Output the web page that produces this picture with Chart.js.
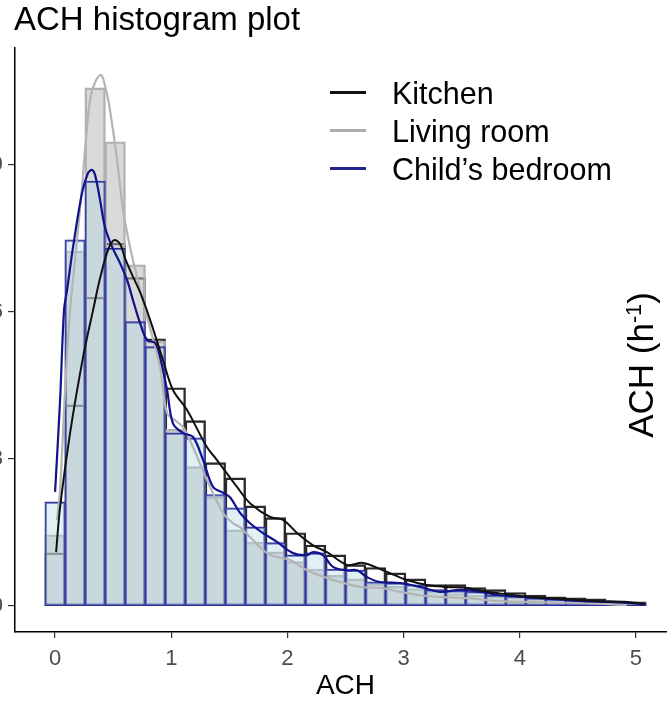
<!DOCTYPE html>
<html>
<head>
<meta charset="utf-8">
<script src="https://cdn.jsdelivr.net/npm/chart.js@4.4.1/dist/chart.umd.min.js"></script>
<style>
  html, body { margin: 0; padding: 0; background: #fff; }
  #wrap { position: relative; width: 667px; height: 706px; overflow: hidden; background: #fff; }
  #c { position: absolute; left: -40px; top: 0; }
  .title { position: absolute; left: 14px; top: 2px; font: 33px/33px 'Liberation Sans', Arial, sans-serif; color: #000; white-space: nowrap; }
  .row { position: absolute; left: 330px; height: 30px; width: 330px; }
  .sw { position: absolute; left: 0; top: 13px; width: 36px; height: 3px; }
  .lbl { position: absolute; left: 62px; top: 0; font: 30.5px/30px 'Liberation Sans', Arial, sans-serif; color: #000; white-space: nowrap; }
  .ylab { position: absolute; left: 521px; top: 345px; width: 240px; height: 40px; text-align: center;
          font: 35px/40px 'Liberation Sans', Arial, sans-serif; color: #000; white-space: nowrap; transform: rotate(-90deg); }
  .ylab sup { font-size: 0.62em; vertical-align: 0.55em; line-height: 0; }
</style>
</head>
<body>
<div id="wrap">
  <canvas id="c" width="720" height="706"></canvas>
  <div class="title">ACH histogram plot</div>
  <div class="row" style="top:78px"><span class="sw" style="background:#111"></span><span class="lbl">Kitchen</span></div>
  <div class="row" style="top:116px"><span class="sw" style="background:#ababab"></span><span class="lbl">Living room</span></div>
  <div class="row" style="top:154px"><span class="sw" style="background:#23238f"></span><span class="lbl">Child’s bedroom</span></div>
  <div class="ylab">ACH (h<sup>-1</sup>)</div>
</div>
<script>
// ---- data (density histograms, 30 bins) ----
const binCenters = [0, 0.1724, 0.3448, 0.5172, 0.6897, 0.8621, 1.0345, 1.2069, 1.3793, 1.5517,
  1.7241, 1.8966, 2.0690, 2.2414, 2.4138, 2.5862, 2.7586, 2.9310, 3.1034, 3.2759,
  3.4483, 3.6207, 3.7931, 3.9655, 4.1379, 4.3103, 4.4828, 4.6552, 4.8276, 5.0];

const kitchenHist = [0.108, 0.41, 0.63, 0.74, 0.67, 0.545, 0.445, 0.378, 0.292, 0.261,
  0.204, 0.18, 0.149, 0.124, 0.104, 0.084, 0.078, 0.067, 0.055, 0.043,
  0.043, 0.037, 0.033, 0.027, 0.022, 0.018, 0.016, 0.014, 0.010, 0.008];

const livingHist = [0.145, 0.724, 1.057, 0.947, 0.696, 0.54, 0.36, 0.284, 0.222, 0.155,
  0.13, 0.11, 0.09, 0.075, 0.062, 0.055, 0.045, 0.04, 0.035, 0.03,
  0.025, 0.022, 0.02, 0.018, 0.015, 0.013, 0.011, 0.01, 0.008, 0.006];

const bedroomHist = [0.212, 0.747, 0.867, 0.73, 0.58, 0.529, 0.353, 0.343, 0.227, 0.2,
  0.161, 0.129, 0.104, 0.108, 0.075, 0.073, 0.049, 0.047, 0.043, 0.033,
  0.031, 0.029, 0.022, 0.02, 0.016, 0.014, 0.012, 0.010, 0.008, 0.006];

// ---- density curves ----
const kitchenKdeX = [0.009, 0.043, 0.129, 0.241, 0.327, 0.387, 0.456, 0.508, 0.559, 0.602, 0.663, 0.731, 0.818, 0.929, 1.015, 1.136, 1.308, 1.394, 1.566, 1.678, 1.850, 1.962, 2.083, 2.220, 2.341, 2.513, 2.651, 2.823, 3.029, 3.201, 3.374, 3.546, 3.718, 3.890, 4.114, 4.406, 4.690, 4.923, 5.077];
const kitchenKdeY = [0.110, 0.202, 0.353, 0.508, 0.604, 0.669, 0.727, 0.747, 0.739, 0.710, 0.676, 0.641, 0.584, 0.502, 0.441, 0.400, 0.324, 0.298, 0.243, 0.210, 0.182, 0.176, 0.149, 0.124, 0.110, 0.084, 0.088, 0.073, 0.053, 0.043, 0.039, 0.037, 0.029, 0.024, 0.018, 0.014, 0.010, 0.008, 0.004];

const livingKdeX = [0.017, 0.043, 0.086, 0.129, 0.172, 0.232, 0.258, 0.301, 0.344, 0.396, 0.439, 0.473, 0.534, 0.585, 0.645, 0.706, 0.775, 0.818, 0.904, 0.964, 1.050, 1.102, 1.188, 1.308, 1.446, 1.532, 1.592, 1.678, 1.824, 1.910, 2.022, 2.169, 2.341, 2.453, 2.625, 2.797, 2.969, 3.141, 3.339, 3.546, 3.830, 4.114, 4.544, 4.923];
const livingKdeY = [0.176, 0.237, 0.441, 0.604, 0.706, 0.855, 0.931, 1.033, 1.069, 1.084, 1.053, 1.012, 0.910, 0.808, 0.733, 0.671, 0.604, 0.567, 0.488, 0.394, 0.376, 0.365, 0.324, 0.257, 0.190, 0.169, 0.161, 0.141, 0.108, 0.100, 0.094, 0.073, 0.057, 0.049, 0.039, 0.037, 0.029, 0.022, 0.018, 0.016, 0.010, 0.008, 0.006, 0.002];

const bedroomKdeX = [0.000, 0.043, 0.077, 0.103, 0.155, 0.232, 0.284, 0.318, 0.344, 0.387, 0.430, 0.491, 0.559, 0.620, 0.671, 0.731, 0.792, 0.861, 0.904, 0.964, 1.015, 1.102, 1.188, 1.274, 1.360, 1.446, 1.506, 1.592, 1.678, 1.790, 1.910, 2.048, 2.169, 2.220, 2.306, 2.392, 2.513, 2.599, 2.685, 2.797, 2.969, 3.141, 3.313, 3.485, 3.657, 3.830, 4.062, 4.286, 4.544, 4.836, 5.077];
const bedroomKdeY = [0.233, 0.420, 0.604, 0.645, 0.733, 0.843, 0.884, 0.890, 0.880, 0.829, 0.773, 0.733, 0.700, 0.665, 0.624, 0.578, 0.543, 0.537, 0.508, 0.441, 0.373, 0.353, 0.345, 0.298, 0.243, 0.231, 0.222, 0.190, 0.169, 0.149, 0.131, 0.108, 0.104, 0.110, 0.104, 0.080, 0.073, 0.073, 0.059, 0.049, 0.047, 0.039, 0.029, 0.033, 0.029, 0.022, 0.018, 0.014, 0.010, 0.008, 0.004];

const xTicks = [0, 1, 2, 3, 4, 5];
const yTicks = [0, 0.3, 0.6, 0.9];

const tickFont = "'Liberation Sans Narrow', 'Liberation Sans', Arial, sans-serif";

function barDs(label, vals, bg, border, bw, order) {
  return {
    type: 'bar', label,
    data: binCenters.map((x, i) => ({ x, y: vals[i] })),
    backgroundColor: bg, borderColor: border, borderWidth: bw,
    borderSkipped: false, inflateAmount: bw / 2,
    barPercentage: 1, categoryPercentage: 1, grouped: false, order
  };
}
function lineDs(label, xs, ys, color, w, order) {
  return {
    type: 'line', label,
    data: xs.map((x, i) => ({ x, y: ys[i] })),
    borderColor: color, borderWidth: w, pointRadius: 0, fill: false,
    tension: 0.35, borderJoinStyle: 'round', order
  };
}

new Chart(document.getElementById('c'), {
  type: 'bar',
  data: {
    datasets: [
      lineDs('Kitchen', kitchenKdeX, kitchenKdeY, '#111111', 2, 0.1),
      lineDs('Child’s bedroom', bedroomKdeX, bedroomKdeY, '#12128c', 2.2, 0.2),
      lineDs('Living room', livingKdeX, livingKdeY, '#b4b4b4', 2.2, 0.3),
      barDs('Child’s bedroom', bedroomHist, 'rgba(173,216,230,0.38)', '#2b2b98', 1.1, 1),
      barDs('Living room', livingHist, 'rgba(180,180,180,0.5)', '#b0b0b0', 1.2, 2),
      barDs('Kitchen', kitchenHist, 'rgba(255,255,255,0)', '#2a2a2a', 1.2, 3)
    ]
  },
  options: {
    responsive: false,
    animation: false,
    devicePixelRatio: 1,
    layout: { padding: { top: 48, right: 4, bottom: 0, left: 0 } },
    plugins: { legend: { display: false }, tooltip: { enabled: false }, title: { display: false } },
    scales: {
      x: {
        type: 'linear', position: 'bottom', min: -0.345, max: 5.345, offset: false,
        grid: { display: true, offset: false, drawOnChartArea: false, drawTicks: true, tickLength: 6, color: '#333', lineWidth: 1.2 },
        border: { display: true, color: '#000', width: 1.5 },
        ticks: { font: { size: 22, family: tickFont }, color: '#4d4d4d', padding: 8, maxRotation: 0, autoSkip: false },
        afterBuildTicks: s => { s.ticks = xTicks.map(v => ({ value: v })); },
        afterFit: s => { s.height = 74; },
        title: { display: true, text: 'ACH', color: '#000', font: { size: 28, family: tickFont }, padding: { top: 0, bottom: 3 } }
      },
      y: {
        type: 'linear', position: 'left', min: -0.053, max: 1.139,
        grid: { display: true, offset: false, drawOnChartArea: false, drawTicks: true, tickLength: 7, color: '#333', lineWidth: 1.2 },
        border: { display: true, color: '#000', width: 1.5 },
        ticks: { font: { size: 22, family: tickFont }, color: '#4d4d4d', padding: 5, callback: v => Number(v).toFixed(1) },
        afterBuildTicks: s => { s.ticks = yTicks.map(v => ({ value: v })); },
        afterFit: s => { s.width = 55; }
      }
    }
  }
});
</script>
</body>
</html>
